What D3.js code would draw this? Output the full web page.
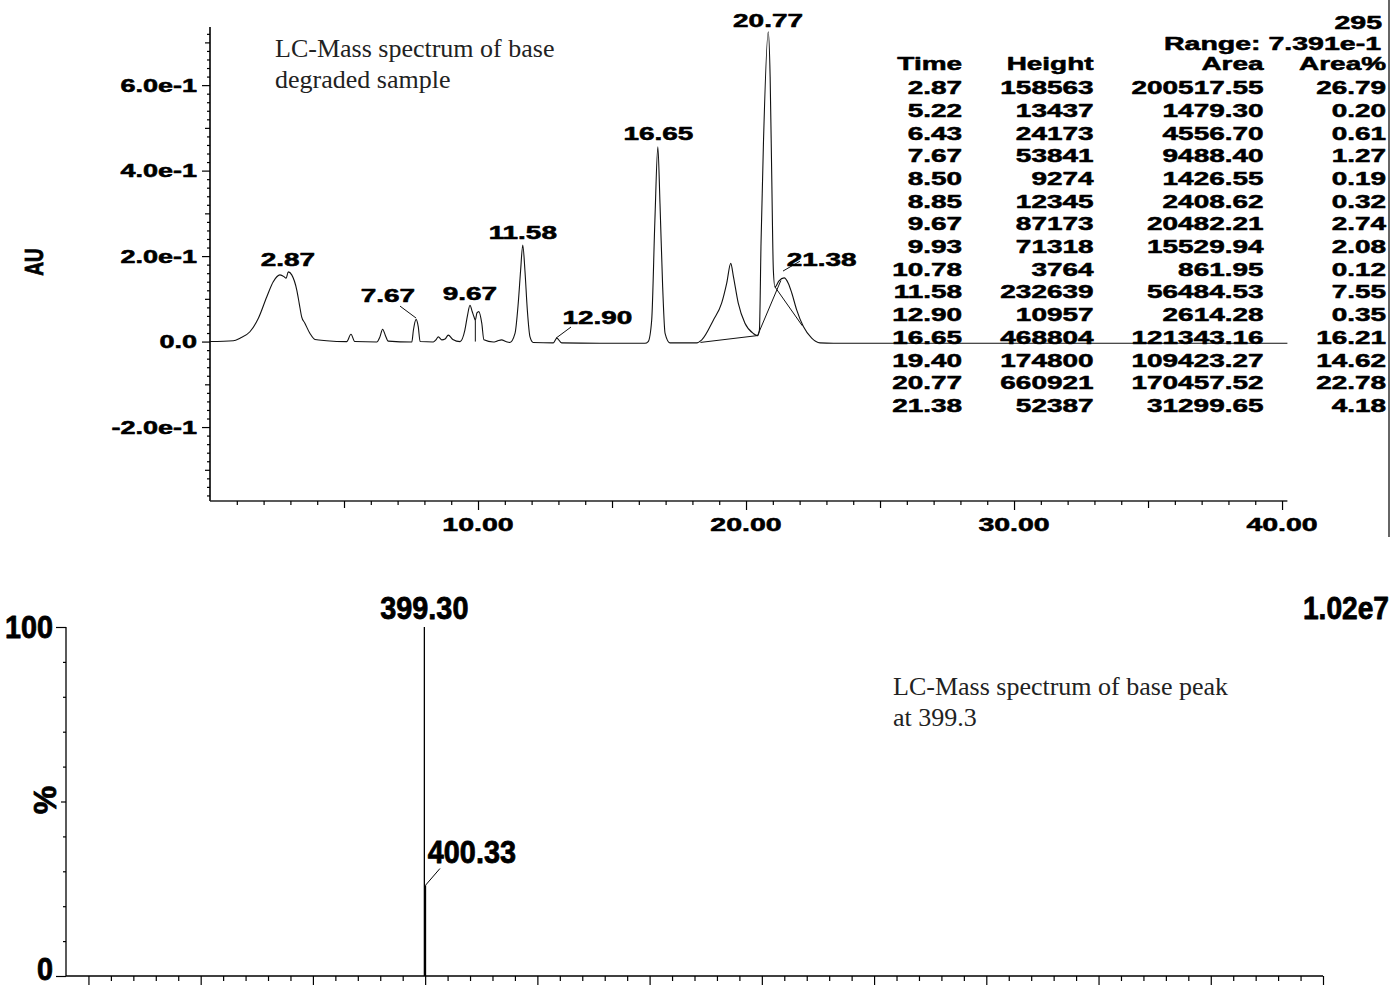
<!DOCTYPE html>
<html><head><meta charset="utf-8">
<script src="https://cdn.jsdelivr.net/npm/d3@7"></script>
<style>
html,body{margin:0;padding:0;background:#fff;overflow:hidden;}
svg{display:block;}
</style></head>
<body>
<script>
// ---------------- DATA ----------------
// Chromatogram trace [time (min), absorbance (AU)]
const trace = [[0,0.000],[0.87,0.002],[1.12,0.008],[1.49,0.023],[1.80,0.054],[2.12,0.105],[2.36,0.140],[2.61,0.156],[2.76,0.152],[2.84,0.148],[2.92,0.163],[3.05,0.156],[3.24,0.120],[3.33,0.089],[3.42,0.058],[3.54,0.043],[3.73,0.019],[3.92,0.005],[4.35,0.002],[5.10,0.000],[5.26,0.017],[5.40,0.000],[6.22,-0.001],[6.34,0.011],[6.44,0.029],[6.54,0.015],[6.65,0.001],[7.53,-0.001],[7.59,0.027],[7.69,0.052],[7.77,0.035],[7.84,0.000],[8.33,-0.001],[8.43,0.004],[8.52,0.011],[8.65,0.004],[8.77,0.006],[8.89,0.015],[9.06,0.005],[9.33,0.000],[9.51,0.027],[9.61,0.062],[9.70,0.085],[9.78,0.071],[9.85,0.058],[9.90,0.050],[9.96,0.067],[10.03,0.070],[10.14,0.043],[10.22,0.004],[10.57,-0.001],[10.71,0.001],[10.88,0.004],[11.04,0.000],[11.19,-0.002],[11.38,0.019],[11.50,0.089],[11.59,0.167],[11.67,0.226],[11.75,0.167],[11.84,0.074],[11.94,0.011],[12.06,-0.002],[12.81,-0.003],[12.94,0.008],[13.12,-0.003],[14.55,-0.004],[16.23,-0.004],[16.35,0.000],[16.48,0.050],[16.60,0.284],[16.71,0.456],[16.79,0.323],[16.89,0.128],[16.98,0.019],[17.16,-0.003],[18.16,-0.003],[18.35,0.004],[18.78,0.050],[19.09,0.090],[19.28,0.137],[19.43,0.183],[19.53,0.152],[19.71,0.090],[19.96,0.043],[20.27,0.019],[20.43,0.014],[20.50,0.027],[20.56,0.230],[20.65,0.464],[20.83,0.725],[20.90,0.619],[20.96,0.385],[21.02,0.167],[21.08,0.128],[21.23,0.142],[21.42,0.149],[21.58,0.136],[21.71,0.113],[21.89,0.074],[22.14,0.035],[22.45,0.008],[22.76,-0.003],[23.26,-0.004],[40.2,-0.004]];
// Integration baselines / drop lines
const integrationLines = [
  [[18.30,-0.002],[20.43,0.014]],
  [[20.43,0.014],[21.30,0.143]],
  [[21.08,0.128],[22.10,0.037]],
  [[9.90,0.050],[9.90,0.000]]
];
// Peak labels: text, label-centre time, label-centre AU
const peakLabels  = ["2.87","7.67","9.67","11.58","12.90","16.65","20.77","21.38"];
const peakLabelT  = [2.91, 6.64, 9.70, 11.67, 14.45, 16.73, 20.82, 22.82];
const peakLabelAU = [0.191, 0.108, 0.112, 0.254, 0.057, 0.487, 0.750, 0.191];
const peakLeaders = [
  [[7.09,0.083],[7.69,0.055]],
  [[12.91,0.008],[13.47,0.034]],
  [[21.38,0.165],[22.01,0.188]]
];
const timeTickLabels = [10,20,30,40];
const auTickLabels = [-0.2,0,0.2,0.4,0.6];

// Peak table
const tableHeader = ["Time","Height","Area","Area%"];
const tableTime   = [2.87,5.22,6.43,7.67,8.50,8.85,9.67,9.93,10.78,11.58,12.90,16.65,19.40,20.77,21.38];
const tableHeight = [158563,13437,24173,53841,9274,12345,87173,71318,3764,232639,10957,468804,174800,660921,52387];
const tableArea   = [200517.55,1479.30,4556.70,9488.40,1426.55,2408.62,20482.21,15529.94,861.95,56484.53,2614.28,121343.16,109423.27,170457.52,31299.65];
const tableAreaPct= [26.79,0.20,0.61,1.27,0.19,0.32,2.74,2.08,0.12,7.55,0.35,16.21,14.62,22.78,4.18];

// Mass spectrum
const msMz        = [399.30, 400.33];
const msIntensity = [100, 26];
const msLabels    = ["399.30","400.33"];
const msLabelMz   = [399.30, 402.4];
const msLabelInt  = [105.5, 35.8];
const msLeader    = [[400.33,26],[413.2,30.8]];
const msYTickLabels = [0,100];

// ---------------- DRAWING ----------------
const W=1391,H=987;
const BOLD='"Liberation Sans", Arial, Helvetica, sans-serif';
const SERIF='"Liberation Serif","Times New Roman",Times,serif';
const svg=d3.select("body").append("svg").attr("width",W).attr("height",H);
svg.append("rect").attr("width",W).attr("height",H).attr("fill","#fff");

function txt(g,x,yc,s,size,sx,anchor,sw){
  return g.append("text")
    .attr("transform",`translate(${x},${yc+0.358*size}) scale(${sx},1)`)
    .attr("text-anchor",anchor||"middle")
    .attr("font-family",BOLD).attr("font-weight","bold")
    .attr("font-size",size).attr("fill","#000")
    .attr("stroke","#000").attr("stroke-width",sw==null?0.55:sw).attr("stroke-linejoin","round")
    .text(s);
}

// ===== Top: chromatogram =====
const xT=d3.scaleLinear().domain([0,40.2]).range([210,1287.4]);
const yA=d3.scaleLinear().domain([-0.373,0.736]).range([501,27]);
const gT=svg.append("g");

// axis lines
gT.append("line").attr("x1",xT(0)).attr("x2",xT(0)).attr("y1",yA(-0.373)).attr("y2",yA(0.736))
  .attr("stroke","#000").attr("stroke-width",1.6);
gT.append("line").attr("x1",xT(0)).attr("x2",xT(40.2)).attr("y1",yA(-0.373)).attr("y2",yA(-0.373))
  .attr("stroke","#222").attr("stroke-width",1.6);

function tickAxis(g, axis, vals, size){
  const a=g.append("g").call(axis.tickValues(vals).tickSize(size).tickFormat(""));
  a.select(".domain").remove();
  a.selectAll(".tick line").attr("stroke","#000").attr("stroke-width",1.2);
  return a;
}
// x ticks
const gx=gT.append("g").attr("transform",`translate(0,${yA(-0.373)})`);
tickAxis(gx,d3.axisBottom(xT),d3.range(1,41).filter(v=>v%5!==0),4);
tickAxis(gx,d3.axisBottom(xT),[5,15,25,35],7);
tickAxis(gx,d3.axisBottom(xT),timeTickLabels,9);
timeTickLabels.forEach(v=>txt(gT,xT(v),524,v.toFixed(2),19,1.5,"middle"));
// y ticks
const gy=gT.append("g").attr("transform",`translate(${xT(0)},0)`);
tickAxis(gy,d3.axisLeft(yA),d3.range(-36,73,2).map(v=>v/100).filter(v=>Math.round(v*100)%10!==0),3);
tickAxis(gy,d3.axisLeft(yA),[-0.3,-0.1,0.1,0.3,0.5,0.7],5);
tickAxis(gy,d3.axisLeft(yA),auTickLabels,8);
const fmtAU=v=> v===0?"0.0":d3.format(".1e")(v).replace("\u2212","-");
auTickLabels.forEach(v=>txt(gT,197,yA(v),fmtAU(v),18,1.5,"end"));
// AU title
gT.append("text").attr("transform","translate(33.5,262) scale(1.4,1) rotate(-90)")
  .attr("y",0.358*19).attr("text-anchor","middle").attr("font-family",BOLD)
  .attr("font-weight","bold").attr("font-size",19).attr("stroke","#000").attr("stroke-width",0.6).text("AU");

// trace
const line=d3.line().x(d=>xT(d[0])).y(d=>yA(d[1])).curve(d3.curveMonotoneX);
gT.append("path").attr("d",line(trace)).attr("fill","none").attr("stroke","#111").attr("stroke-width",1.1);
const sline=d3.line().x(d=>xT(d[0])).y(d=>yA(d[1]));
integrationLines.forEach(s=>gT.append("path").attr("d",sline(s)).attr("fill","none").attr("stroke","#111").attr("stroke-width",1));
peakLeaders.forEach(s=>gT.append("path").attr("d",sline(s)).attr("fill","none").attr("stroke","#111").attr("stroke-width",1));
peakLabels.forEach((s,i)=>txt(gT,xT(peakLabelT[i]),yA(peakLabelAU[i]),s,18,1.55,"middle"));

// annotation
const ann1=gT.append("text").attr("font-family",SERIF).attr("font-size",26).attr("fill","#222");
ann1.append("tspan").attr("x",275).attr("y",56.5).text("LC-Mass spectrum of  base");
ann1.append("tspan").attr("x",275).attr("y",88).text("degraded sample");

// table
const colRight=[962,1093.5,1263.5,1386];
const rowY=d3.scaleLinear().domain([0,1]).range([87.3,110]);
txt(gT,1382,21.7,"295",19,1.5,"end");
txt(gT,1381,43.3,"Range: 7.391e-1",19,1.5,"end");
tableHeader.forEach((h,j)=>txt(gT,colRight[j],63.3,h,19,1.47,"end"));
tableTime.forEach((t,i)=>{
  const y=rowY(i);
  txt(gT,colRight[0],y,t.toFixed(2),19,1.47,"end");
  txt(gT,colRight[1],y,String(tableHeight[i]),19,1.47,"end");
  txt(gT,colRight[2],y,tableArea[i].toFixed(2),19,1.47,"end");
  txt(gT,colRight[3],y,tableAreaPct[i].toFixed(2),19,1.47,"end");
});
// right border line
gT.append("line").attr("x1",1389).attr("x2",1389).attr("y1",0).attr("y2",537).attr("stroke","#333").attr("stroke-width",1.5);

// ===== Bottom: mass spectrum =====
const xM=d3.scaleLinear().domain([80,1200]).range([66,1323]);
const yM=d3.scaleLinear().domain([0,100]).range([976,627]);
const gM=svg.append("g");
gM.append("line").attr("x1",xM(80)).attr("x2",xM(80)).attr("y1",yM(0)).attr("y2",yM(100)).attr("stroke","#000").attr("stroke-width",1.3);
gM.append("line").attr("x1",xM(80)).attr("x2",xM(1200)).attr("y1",yM(0)).attr("y2",yM(0)).attr("stroke","#000").attr("stroke-width",1.6);
const gmx=gM.append("g").attr("transform",`translate(0,${yM(0)})`);
tickAxis(gmx,d3.axisBottom(xM),d3.range(100,1201,20).filter(v=>v%100!==0),5);
tickAxis(gmx,d3.axisBottom(xM),d3.range(100,1201,100),9);
const gmy=gM.append("g").attr("transform",`translate(${xM(80)},0)`);
tickAxis(gmy,d3.axisLeft(yM),[10,20,30,40,60,70,80,90],3);
tickAxis(gmy,d3.axisLeft(yM),[50],5);
tickAxis(gmy,d3.axisLeft(yM),msYTickLabels,10);
// "0" label nudged up so it stays inside the frame
msYTickLabels.forEach(v=>txt(gM,53,yM(v)-(v===0?7:0),String(v),32,0.9,"end",0.8));
gM.append("text").attr("transform","translate(44.6,800) rotate(-90)")
  .attr("y",0.36*32).attr("text-anchor","middle").attr("font-family",BOLD)
  .attr("font-weight","bold").attr("font-size",32).attr("stroke","#000").attr("stroke-width",0.8).text("%");
// sticks
msMz.forEach((m,i)=>gM.append("line").attr("x1",xM(m)).attr("x2",xM(m))
  .attr("y1",yM(0)).attr("y2",yM(msIntensity[i])).attr("stroke","#000").attr("stroke-width",1.3));
gM.append("path").attr("d",d3.line().x(d=>xM(d[0])).y(d=>yM(d[1]))(msLeader)).attr("stroke","#000").attr("fill","none");
txt(gM,xM(msLabelMz[0]),yM(msLabelInt[0]),msLabels[0],32,0.9,"middle",0.8);
txt(gM,xM(msLabelMz[1]),yM(msLabelInt[1]),msLabels[1],32,0.9,"start",0.8);
txt(gM,1389,608,"1.02e7",32,0.88,"end",0.8);
const ann2=gM.append("text").attr("font-family",SERIF).attr("font-size",26).attr("fill","#222");
ann2.append("tspan").attr("x",893).attr("y",695).text("LC-Mass spectrum of  base peak");
ann2.append("tspan").attr("x",893).attr("y",726).text("at 399.3");
</script>
</body></html>
